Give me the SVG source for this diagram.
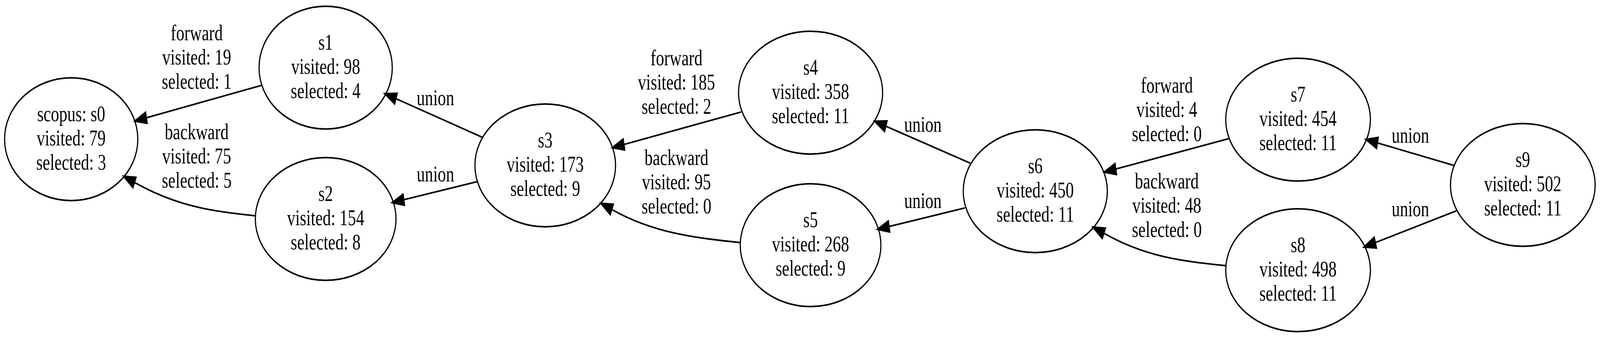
<svg xmlns="http://www.w3.org/2000/svg" width="5596" height="867" viewBox="0 0 5596 867" preserveAspectRatio="none">
<style>
svg{width:100vw;height:100vh;display:block}
.node ellipse{fill:none;stroke:#000;stroke-width:4.1}
text{font-family:"Liberation Serif","Times New Roman",serif;font-size:57.5px;fill:#000;text-anchor:middle}
.edge{fill:none;stroke:#000;stroke-width:4.1;marker-end:url(#ah)}
</style>
<defs>
<marker id="ah" markerUnits="userSpaceOnUse" viewBox="-4 -20 50 40" markerWidth="50" markerHeight="40" refX="0" refY="0" orient="auto" overflow="visible">
<path d="M0,-14.5 L42,0 L0,14.5 Z" fill="#000" stroke="#000" stroke-width="4.1" stroke-linejoin="miter"/>
</marker>
</defs>
<rect width="5596" height="867" fill="#fff"/>
<g id="connectors">
<g id="e_s1_s0"><path class="edge" d="M913.8,218.4 L512.1,301.2"/><text x="688" y="103">forward</text><text x="688" y="165">visited: 19</text><text x="688" y="227">selected: 1</text></g>
<g id="e_s2_s0"><path class="edge" d="M893,552 C743,540 620.5,528.7 470.5,466.7"/><text x="688" y="356">backward</text><text x="688" y="418">visited: 75</text><text x="688" y="480">selected: 5</text></g>
<g id="e_s3_s1"><path class="edge" d="M1686.5,351 L1384.9,252.4"/><text x="1523" y="269">union</text></g>
<g id="e_s3_s2"><path class="edge" d="M1669.4,464.5 L1412.3,510.8"/><text x="1523" y="464.5">union</text></g>
<g id="e_s4_s3"><path class="edge" d="M2592,286.5 L2182.4,369.4"/><text x="2366" y="167">forward</text><text x="2366" y="229">visited: 185</text><text x="2366" y="291">selected: 2</text></g>
<g id="e_s5_s3"><path class="edge" d="M2589.5,620.5 C2439.5,608.5 2289.8,597.8 2139.8,535.8"/><text x="2366" y="422">backward</text><text x="2366" y="484">visited: 95</text><text x="2366" y="546">selected: 0</text></g>
<g id="e_s6_s4"><path class="edge" d="M3393.3,417.3 L3098.3,322.8"/><text x="3228" y="336.7">union</text></g>
<g id="e_s6_s5"><path class="edge" d="M3375,531.7 L3109.6,579.3"/><text x="3228" y="531.7">union</text></g>
<g id="e_s7_s6"><path class="edge" d="M4296.7,354.8 L3902.6,432.3"/><text x="4081" y="237">forward</text><text x="4081" y="299">visited: 4</text><text x="4081" y="361">selected: 0</text></g>
<g id="e_s8_s6"><path class="edge" d="M4286.6,679.5 C4136.6,667.5 4010.8,658.7 3860.8,596.7"/><text x="4081" y="482">backward</text><text x="4081" y="544">visited: 48</text><text x="4081" y="606">selected: 0</text></g>
<g id="e_s9_s7"><path class="edge" d="M5084.5,423 L4817.6,365.5"/><text x="4933" y="365">union</text></g>
<g id="e_s9_s8"><path class="edge" d="M5093.5,539.2 L4810.4,620.4"/><text x="4933" y="553">union</text></g>
</g>
<g id="s0" class="node"><ellipse cx="249" cy="356" rx="233" ry="157"/><text x="249" y="310">scopus: s0</text><text x="249" y="372">visited: 79</text><text x="249" y="434">selected: 3</text></g>
<g id="s1" class="node"><ellipse cx="1139" cy="173" rx="233" ry="157"/><text x="1139" y="127">s1</text><text x="1139" y="189">visited: 98</text><text x="1139" y="251">selected: 4</text></g>
<g id="s2" class="node"><ellipse cx="1139" cy="560" rx="246" ry="157"/><text x="1139" y="514">s2</text><text x="1139" y="576">visited: 154</text><text x="1139" y="638">selected: 8</text></g>
<g id="s3" class="node"><ellipse cx="1907" cy="423" rx="246" ry="157"/><text x="1907" y="377">s3</text><text x="1907" y="439">visited: 173</text><text x="1907" y="501">selected: 9</text></g>
<g id="s4" class="node"><ellipse cx="2835" cy="237" rx="252" ry="157"/><text x="2835" y="191">s4</text><text x="2835" y="253">visited: 358</text><text x="2835" y="315">selected: 11</text></g>
<g id="s5" class="node"><ellipse cx="2835" cy="627" rx="246" ry="157"/><text x="2835" y="581">s5</text><text x="2835" y="643">visited: 268</text><text x="2835" y="705">selected: 9</text></g>
<g id="s6" class="node"><ellipse cx="3621" cy="489" rx="252" ry="157"/><text x="3621" y="443">s6</text><text x="3621" y="505">visited: 450</text><text x="3621" y="567">selected: 11</text></g>
<g id="s7" class="node"><ellipse cx="4540" cy="306" rx="253" ry="157"/><text x="4540" y="260">s7</text><text x="4540" y="322">visited: 454</text><text x="4540" y="384">selected: 11</text></g>
<g id="s8" class="node"><ellipse cx="4540" cy="691" rx="253" ry="157"/><text x="4540" y="645">s8</text><text x="4540" y="707">visited: 498</text><text x="4540" y="769">selected: 11</text></g>
<g id="s9" class="node"><ellipse cx="5326" cy="473" rx="253" ry="157"/><text x="5326" y="427">s9</text><text x="5326" y="489">visited: 502</text><text x="5326" y="551">selected: 11</text></g>
</svg>
